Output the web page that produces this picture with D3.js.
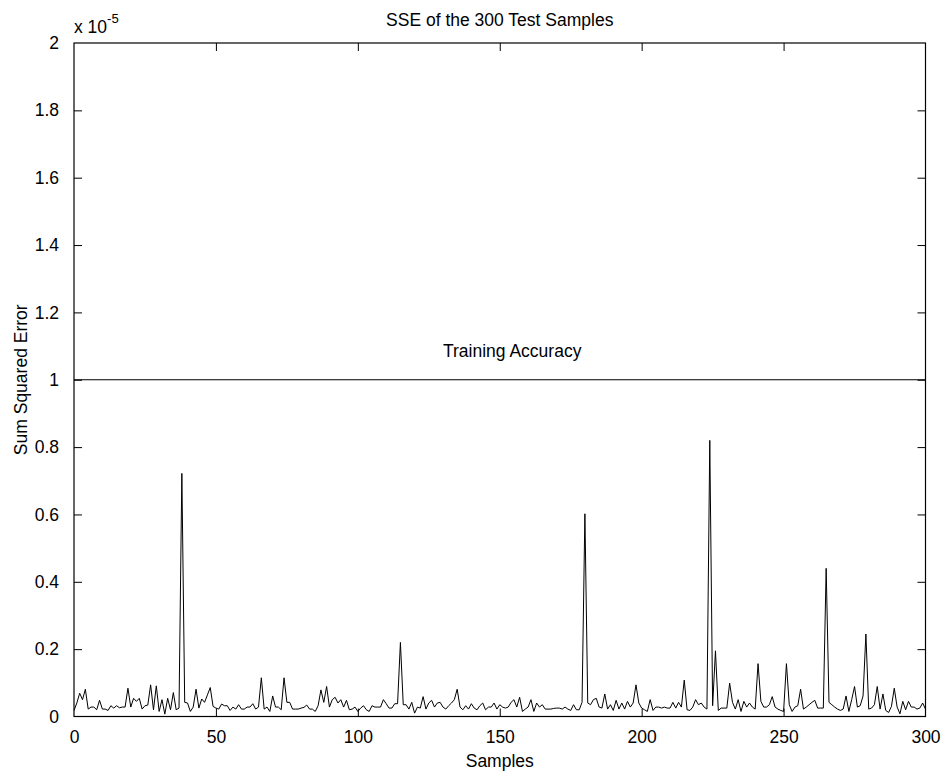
<!DOCTYPE html>
<html>
<head>
<meta charset="utf-8">
<script src="https://cdn.jsdelivr.net/npm/d3@7"></script>
<style>
  html, body { margin: 0; padding: 0; background: #fff; }
  svg { display: block; font-family: "Liberation Sans", Arial, sans-serif; }
</style>
</head>
<body>
<svg id="chart" width="945" height="774"></svg>
<script>
// ---- data (values in units of 1e-5) ----
const title = "SSE of the 300 Test Samples";
const xLabel = "Samples";
const yLabel = "Sum Squared Error";
const exponent = -5;
const xTicks = [0, 50, 100, 150, 200, 250, 300];
const yTicks = [0, 0.2, 0.4, 0.6, 0.8, 1, 1.2, 1.4, 1.6, 1.8, 2];
const trainingAccuracy = 1.0;
const trainingLabel = "Training Accuracy";
const trainingLabelPos = [130, 1.08];
const sse = [
  0.018,0.040,0.069,0.050,0.081,0.022,0.028,0.028,0.020,0.048,
  0.022,0.022,0.018,0.032,0.025,0.032,0.026,0.028,0.028,0.084,
  0.028,0.054,0.045,0.054,0.022,0.032,0.034,0.094,0.020,0.091,
  0.015,0.050,0.007,0.054,0.020,0.071,0.020,0.025,0.722,0.042,
  0.040,0.015,0.028,0.081,0.025,0.052,0.042,0.064,0.086,0.030,
  0.025,0.022,0.037,0.032,0.032,0.018,0.028,0.022,0.035,0.022,
  0.022,0.028,0.028,0.038,0.022,0.028,0.115,0.022,0.028,0.015,
  0.061,0.028,0.028,0.020,0.115,0.042,0.042,0.022,0.022,0.022,
  0.025,0.027,0.034,0.022,0.022,0.015,0.032,0.079,0.042,0.089,
  0.028,0.050,0.057,0.040,0.050,0.028,0.048,0.020,0.022,0.028,
  0.015,0.025,0.032,0.020,0.015,0.032,0.028,0.028,0.028,0.050,
  0.038,0.025,0.025,0.038,0.038,0.220,0.035,0.035,0.022,0.042,
  0.010,0.028,0.025,0.059,0.022,0.040,0.048,0.028,0.040,0.042,
  0.028,0.022,0.032,0.040,0.050,0.081,0.028,0.020,0.032,0.022,
  0.038,0.025,0.020,0.032,0.040,0.020,0.028,0.028,0.040,0.022,
  0.035,0.028,0.025,0.028,0.042,0.050,0.028,0.057,0.015,0.022,
  0.028,0.050,0.015,0.040,0.028,0.035,0.022,0.022,0.022,0.024,
  0.025,0.025,0.022,0.028,0.022,0.018,0.035,0.020,0.020,0.042,
  0.602,0.040,0.035,0.050,0.054,0.028,0.025,0.067,0.022,0.035,
  0.018,0.048,0.022,0.040,0.022,0.045,0.028,0.040,0.094,0.040,
  0.025,0.020,0.015,0.050,0.018,0.028,0.028,0.025,0.028,0.025,
  0.025,0.042,0.025,0.042,0.028,0.108,0.020,0.018,0.028,0.050,
  0.035,0.040,0.028,0.022,0.820,0.032,0.195,0.018,0.025,0.025,
  0.025,0.099,0.042,0.022,0.050,0.015,0.045,0.028,0.040,0.028,
  0.022,0.157,0.045,0.028,0.028,0.035,0.059,0.028,0.022,0.018,
  0.015,0.157,0.035,0.015,0.028,0.032,0.081,0.022,0.028,0.035,
  0.042,0.048,0.025,0.025,0.025,0.440,0.042,0.035,0.028,0.022,
  0.018,0.022,0.061,0.015,0.050,0.089,0.028,0.032,0.061,0.245,
  0.022,0.025,0.035,0.089,0.022,0.067,0.018,0.012,0.030,0.084,
  0.028,0.008,0.045,0.020,0.045,0.028,0.028,0.022,0.025,0.040,
  0.022
];

// ---- layout ----
const svg = d3.select("#chart");
const mL = 74, mR = 925.5, mT = 43, mB = 716.5;
const fontSize = 17.5;
const tickLen = 8;

const x = d3.scaleLinear().domain([0, 300]).range([mL, mR]);
const y = d3.scaleLinear().domain([0, 2]).range([mB, mT]);

const fmt = d => (d === 0 ? "0" : d3.format("~g")(d));

// axes (MATLAB style: inward ticks, box)
const gx = svg.append("g").attr("transform", `translate(0,${mB})`)
  .call(d3.axisBottom(x).tickValues(xTicks).tickSize(-tickLen).tickPadding(tickLen + 6).tickFormat(fmt));
const gxTop = svg.append("g").attr("transform", `translate(0,${mT})`)
  .call(d3.axisTop(x).tickValues(xTicks).tickSize(-tickLen).tickFormat(""));
const gy = svg.append("g").attr("transform", `translate(${mL},0)`)
  .call(d3.axisLeft(y).tickValues(yTicks).tickSize(-tickLen).tickPadding(tickLen + 7).tickFormat(fmt));
const gyRight = svg.append("g").attr("transform", `translate(${mR},0)`)
  .call(d3.axisRight(y).tickValues(yTicks).tickSize(-tickLen).tickFormat(""));

[gx, gxTop, gy, gyRight].forEach(g => {
  g.select(".domain").remove();
  g.selectAll(".tick line").attr("stroke", "#000").attr("stroke-width", 1);
  g.selectAll("text").attr("fill", "#000").style("font-size", fontSize + "px")
    .style("font-family", '"Liberation Sans", Arial, sans-serif');
});
// remove end ticks at the corners (box drawn separately)
[gx, gxTop].forEach(g => g.selectAll(".tick").filter(d => d === 0 || d === 300).select("line").remove());
[gy, gyRight].forEach(g => g.selectAll(".tick").filter(d => d === 0 || d === 2).select("line").remove());

svg.append("rect")
  .attr("x", mL).attr("y", mT)
  .attr("width", mR - mL).attr("height", mB - mT)
  .attr("fill", "none").attr("stroke", "#000").attr("stroke-width", 1.2);

// data line
const line = d3.line().x((d, i) => x(i)).y(d => y(d));
svg.append("path").datum(sse)
  .attr("d", line).attr("fill", "none")
  .attr("stroke", "#000").attr("stroke-width", 1)
  .attr("stroke-linejoin", "miter");

// training accuracy line
svg.append("line")
  .attr("x1", x(0)).attr("x2", x(300))
  .attr("y1", y(trainingAccuracy)).attr("y2", y(trainingAccuracy))
  .attr("stroke", "#000").attr("stroke-width", 1.2);

svg.append("text")
  .attr("x", x(trainingLabelPos[0])).attr("y", y(trainingLabelPos[1]))
  .attr("dominant-baseline", "middle")
  .style("font-size", fontSize + "px")
  .text(trainingLabel);

// exponent label
const ex = svg.append("text").attr("x", mL).attr("y", 33).style("font-size", fontSize + "px");
ex.append("tspan").text("x 10");
ex.append("tspan").attr("dy", -10).style("font-size", (fontSize * 0.75) + "px").text(String(exponent));

// title
svg.append("text")
  .attr("x", (mL + mR) / 2).attr("y", 26)
  .attr("text-anchor", "middle").style("font-size", fontSize + "px")
  .text(title);

// x label
svg.append("text")
  .attr("x", (mL + mR) / 2).attr("y", 767)
  .attr("text-anchor", "middle").style("font-size", fontSize + "px")
  .text(xLabel);

// y label
svg.append("text")
  .attr("transform", `translate(27,${(mT + mB) / 2}) rotate(-90)`)
  .attr("text-anchor", "middle").style("font-size", fontSize + "px")
  .text(yLabel);
</script>
</body>
</html>
